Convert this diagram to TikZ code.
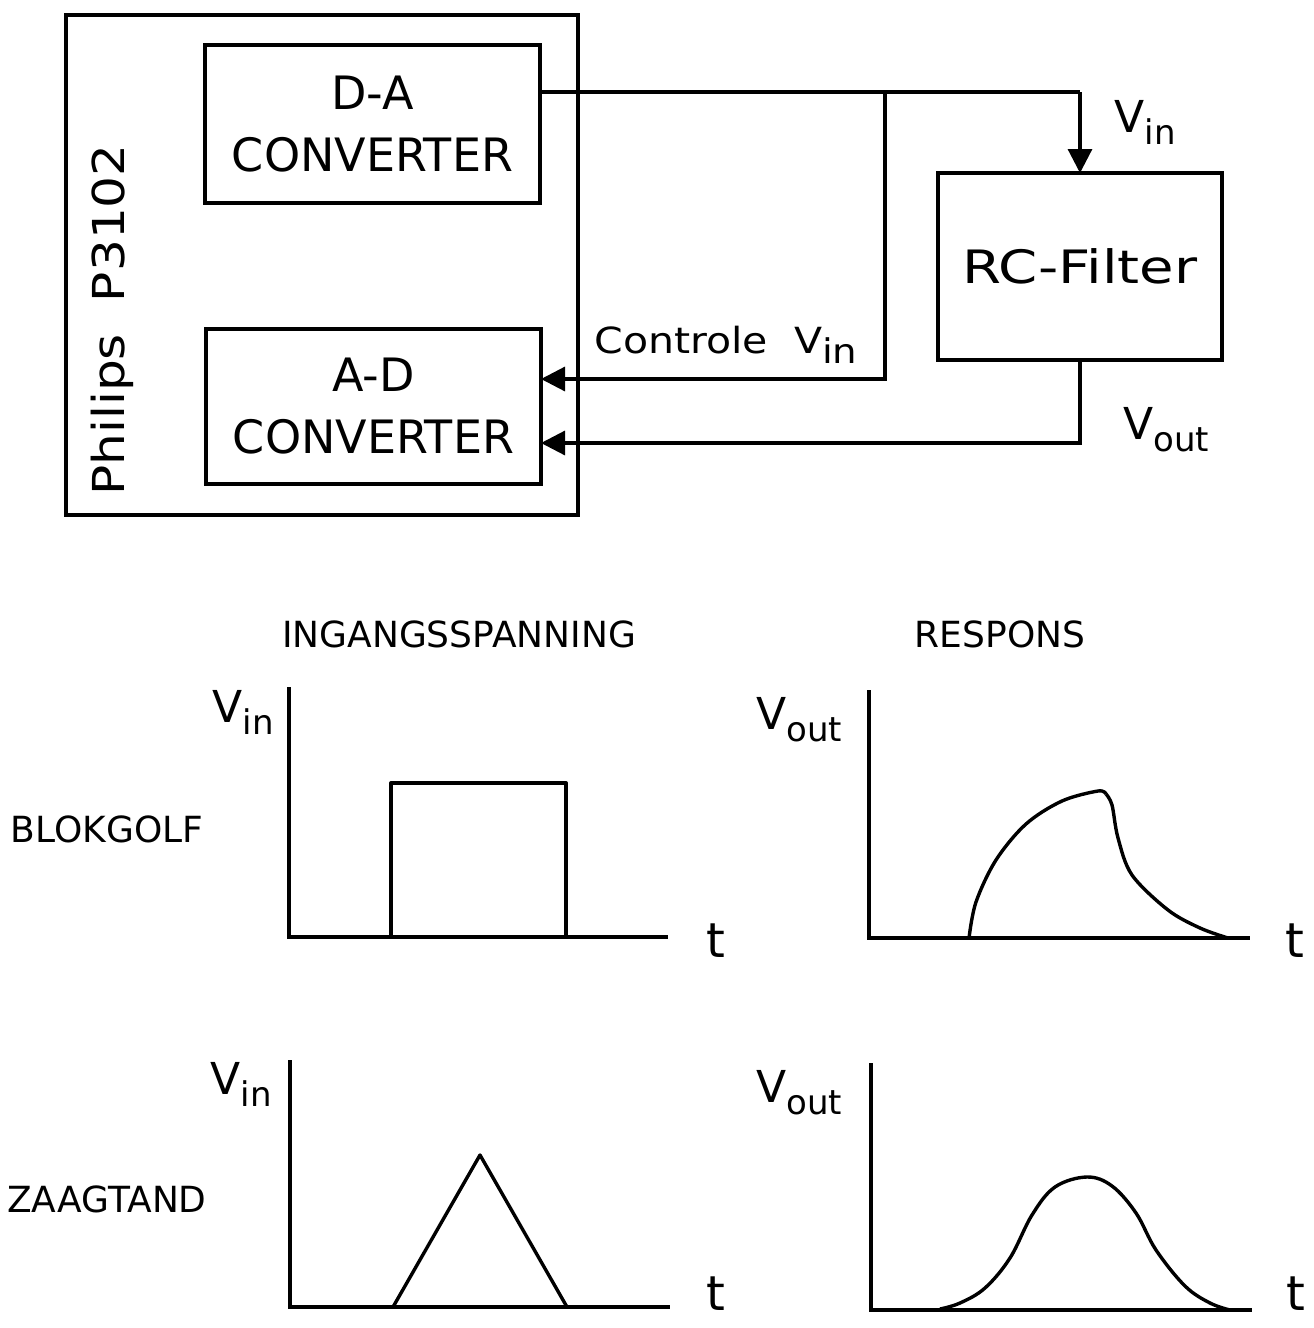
\documentclass[tikz,border=0pt]{standalone}
\usepackage{fontspec}
\setmainfont{DejaVu Sans}
\newfontfamily\widefont[FakeStretch=1.14]{DejaVu Sans}
\newfontfamily\widerfont[FakeStretch=1.22]{DejaVu Sans}
\usetikzlibrary{arrows.meta}
\newcommand\VV[2]{V\raisebox{-0.5ex}{\fontsize{17}{17}\selectfont #2}}
\begin{document}
\begin{tikzpicture}[x=0.5pt,y=-0.5pt,
  every node/.style={inner sep=0pt,outer sep=0pt},
  blk/.style={draw,line width=1.6pt},
  wire/.style={line width=1.6pt},
  arr/.style={wire,-{Triangle[length=12pt,width=12pt]}},
  ax/.style={line width=1.6pt},
  crv/.style={line width=1.7pt,line join=round},
  big/.style={font=\fontsize{23}{31}\selectfont},
  mid/.style={font=\fontsize{18}{22}\selectfont},
  lab/.style={font=\fontsize{22}{22}\selectfont},
  tlab/.style={font=\fontsize{24}{24}\selectfont}]
\useasboundingbox (0,0) rectangle (1313,1328);
% --- block diagram ---
\node[blk,minimum width=256pt,minimum height=250pt] (philips) at (322,265) {};
\node[rotate=90,font=\widefont\fontsize{22}{24}\selectfont] (ptxt) at (112,320) {Philips\ \ P3102};
\node[blk,big,align=center,minimum width=167.5pt,minimum height=79pt] (da) at (372.5,124) {D-A\\CONVERTER};
\node[blk,big,align=center,minimum width=167.5pt,minimum height=77.5pt] (ad) at (373.5,406.5) {A-D\\CONVERTER};
\node[blk,font=\widerfont\fontsize{23}{31}\selectfont,minimum width=142pt,minimum height=93.5pt] (rc) at (1080,266.5) {RC-Filter};
\coordinate (j) at (885,92);
\coordinate (k) at (1080,92);
\coordinate (c1) at (885,379);
\coordinate (c2) at (1080,443);
\draw[wire] (da.east |- j) -- (k);
\draw[arr] (k) -- (rc.north);
\draw[arr] (j) -- (c1) -- (c1 -| ad.east);
\draw[arr] (rc.south) -- (c2) -- (c2 -| ad.east);
\node[lab] (vin) at (1145,122) {\VV{V}{in}};
\node[font=\widefont\fontsize{18}{22}\selectfont] (ctrl) at (726,345) {Controle\ \ \VV{V}{in}};
\node[lab] (vout) at (1166,430) {\VV{V}{out}};
% --- headings ---
\node[mid] (hin) at (459,634) {INGANGSSPANNING};
\node[mid] (hout) at (1000,634) {RESPONS};
\node[mid] (blok) at (107,829) {BLOKGOLF};
\node[mid] (zaag) at (107,1199) {ZAAGTAND};
% --- plot 1: block wave input ---
\draw[ax] (289,687) -- (289,937) -- (668,937);
\draw[crv] (391,937) -- (391,783) -- (566,783) -- (566,937);
\node[lab] at (243,712) {\VV{V}{in}};
\node[tlab] at (716,941) {t};
% --- plot 2: block wave response ---
\draw[ax] (869,690) -- (869,938) -- (1250,938);
\draw[crv] plot[smooth,tension=0.55] coordinates {(969,938) (976,902) (996,860) (1026,824) (1062,801) (1098,791) (1106,794)};
\draw[crv] plot[smooth,tension=0.55] coordinates {(1106,794) (1112,805) (1118,838) (1132,875) (1168,910) (1200,928) (1228,938)};
\node[lab] at (799,720) {\VV{V}{out}};
\node[tlab] at (1295,941) {t};
% --- plot 3: sawtooth input ---
\draw[ax] (290,1060) -- (290,1307) -- (670,1307);
\draw[crv] (393,1307) -- (480,1155) -- (567,1307);
\node[lab] at (241,1084) {\VV{V}{in}};
\node[tlab] at (716,1294) {t};
% --- plot 4: sawtooth response ---
\draw[ax] (871,1063) -- (871,1310) -- (1252,1310);
\draw[crv] plot[smooth,tension=0.6] coordinates {(940,1309) (960,1303) (985,1288) (1010,1258) (1032,1215) (1055,1187) (1087,1177) (1112,1186) (1136,1213) (1156,1250) (1185,1286) (1210,1303) (1230,1310)};
\node[lab] at (799,1093) {\VV{V}{out}};
\node[tlab] at (1296,1294) {t};
\end{tikzpicture}
\end{document}
